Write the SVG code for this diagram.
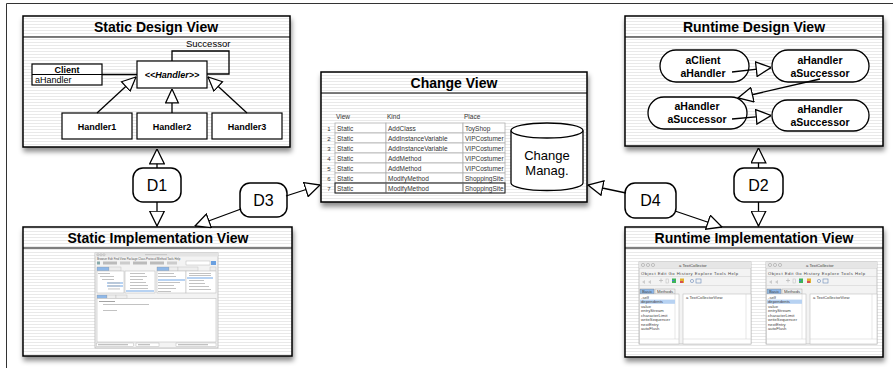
<svg xmlns="http://www.w3.org/2000/svg" width="893" height="368" viewBox="0 0 893 368">
<defs>
<pattern id="pin" width="4" height="3" patternUnits="userSpaceOnUse"><rect width="4" height="3" fill="#ffffff"/><rect width="4" height="1" fill="#e9e9e9"/></pattern>
<filter id="sh" x="-5%" y="-5%" width="112%" height="125%"><feDropShadow dx="1" dy="4" stdDeviation="2.5" flood-color="#000" flood-opacity="0.45"/></filter>
<marker id="tri" viewBox="0 0 16 16" refX="15.5" refY="8" markerWidth="16" markerHeight="16" markerUnits="userSpaceOnUse" orient="auto"><path d="M0.7,0.7 L15.5,8 L0.7,15.3 Z" fill="#fff" stroke="#000" stroke-width="1.3"/></marker>
<marker id="tris" viewBox="0 0 16 16" refX="15.5" refY="8" markerWidth="15" markerHeight="15" markerUnits="userSpaceOnUse" orient="auto"><path d="M0.7,1.2 L15.5,8 L0.7,14.8 Z" fill="#fff" stroke="#000" stroke-width="1.3"/></marker>
</defs>
<style>
text{font-family:"Liberation Sans",Arial,sans-serif;}
.box{fill:url(#pin);stroke:#000;stroke-width:1.5;filter:url(#sh);}
.band{fill:none;stroke:#000;stroke-width:1.2;}
.title{font-size:14px;font-weight:bold;text-anchor:middle;fill:#000;}
.cls{fill:#fff;stroke:#000;stroke-width:1.2;}
.cb{font-size:9px;font-weight:bold;text-anchor:middle;}
.cn{font-size:9px;}
.ln{fill:none;stroke:#000;stroke-width:1.3;}
.dbox{fill:#fff;stroke:#000;stroke-width:1.5;}
.dt{font-size:16px;text-anchor:middle;}
.rn{fill:#fff;stroke:#000;stroke-width:1.3;}
.rt{font-size:10.5px;font-weight:bold;text-anchor:middle;}
.tb{font-size:6.5px;fill:#333;}
.tn{font-size:6px;fill:#333;text-anchor:middle;}
.cell{fill:#fff;stroke:#b0b0b0;stroke-width:0.8;}
.win{fill:#f3f3f3;stroke:#b8b8b8;stroke-width:0.8;}
.pane{fill:#fff;stroke:#c0c0c0;stroke-width:0.6;}
.tiny{font-size:4.2px;fill:#444;}
.tiny2{font-size:2.8px;fill:#555;}
.bar{fill:#c9c9c9;}
.hl{fill:#b7d2f2;}
</style>

<path d="M6.5,368 V3.5 H893" fill="none" stroke="#333" stroke-width="1"/>

<!-- Static Design View -->
<g id="static-design-view">
<rect class="box" x="23" y="16" width="267" height="131"/>
<line class="band" x1="23" y1="37" x2="290" y2="37"/>
<text class="title" x="156" y="32">Static Design View</text>
</g>
<g id="client">
<rect class="cls" x="32" y="64" width="70" height="21"/>
<line class="band" x1="32" y1="74.5" x2="102" y2="74.5"/>
<text class="cb" x="67" y="72.5">Client</text>
<text class="cn" x="35" y="83">aHandler</text>
</g>
<g id="handler">
<rect class="cls" x="137" y="61" width="70" height="27"/>
<text class="cb" x="172" y="78" font-style="italic">&lt;&lt;Handler&gt;&gt;</text>
<text x="186" y="47" font-size="9.5px">Successor</text>
</g>
<g id="handler1"><rect class="cls" x="62" y="113" width="70" height="26"/><text class="cb" x="97" y="129.5">Handler1</text></g>
<g id="handler2"><rect class="cls" x="137" y="113" width="70" height="26"/><text class="cb" x="172" y="129.5">Handler2</text></g>
<g id="handler3"><rect class="cls" x="212" y="113" width="70" height="26"/><text class="cb" x="247" y="129.5">Handler3</text></g>

<!-- Change View -->
<g id="change-view">
<rect class="box" x="321" y="72" width="266" height="130"/>
<line class="band" x1="321" y1="93" x2="587" y2="93"/>
<text class="title" x="454" y="88">Change View</text>
<text class="tb" x="336" y="118.5">View</text>
<text class="tb" x="387" y="118.5">Kind</text>
<text class="tb" x="464" y="118.5">Place</text>
<g>
<rect class="cell" x="335" y="123" width="51" height="10"/><rect class="cell" x="386" y="123" width="77" height="10"/><rect class="cell" x="463" y="123" width="42" height="10"/>
<rect class="cell" x="335" y="133" width="51" height="10"/><rect class="cell" x="386" y="133" width="77" height="10"/><rect class="cell" x="463" y="133" width="42" height="10"/>
<rect class="cell" x="335" y="143" width="51" height="10"/><rect class="cell" x="386" y="143" width="77" height="10"/><rect class="cell" x="463" y="143" width="42" height="10"/>
<rect class="cell" x="335" y="153" width="51" height="10"/><rect class="cell" x="386" y="153" width="77" height="10"/><rect class="cell" x="463" y="153" width="42" height="10"/>
<rect class="cell" x="335" y="163" width="51" height="10"/><rect class="cell" x="386" y="163" width="77" height="10"/><rect class="cell" x="463" y="163" width="42" height="10"/>
<rect class="cell" x="335" y="173" width="51" height="10"/><rect class="cell" x="386" y="173" width="77" height="10"/><rect class="cell" x="463" y="173" width="42" height="10"/>
<rect class="cell" x="335" y="183" width="51" height="10"/><rect class="cell" x="386" y="183" width="77" height="10"/><rect class="cell" x="463" y="183" width="42" height="10"/>
<rect x="335" y="183" width="170" height="10" fill="none" stroke="#222" stroke-width="1"/>
<line x1="386" y1="183" x2="386" y2="193" stroke="#777" stroke-width="0.8"/><line x1="463" y1="183" x2="463" y2="193" stroke="#777" stroke-width="0.8"/>
</g>
<text class="tn" x="329" y="130.5">1</text><text class="tb" x="337" y="130.5">Static</text><text class="tb" x="388" y="130.5">AddClass</text><text class="tb" x="465" y="130.5">ToyShop</text>
<text class="tn" x="329" y="140.5">2</text><text class="tb" x="337" y="140.5">Static</text><text class="tb" x="388" y="140.5">AddInstanceVariable</text><text class="tb" x="465" y="140.5">VIPCostumer</text>
<text class="tn" x="329" y="150.5">3</text><text class="tb" x="337" y="150.5">Static</text><text class="tb" x="388" y="150.5">AddInstanceVariable</text><text class="tb" x="465" y="150.5">VIPCostumer</text>
<text class="tn" x="329" y="160.5">4</text><text class="tb" x="337" y="160.5">Static</text><text class="tb" x="388" y="160.5">AddMethod</text><text class="tb" x="465" y="160.5">VIPCostumer</text>
<text class="tn" x="329" y="170.5">5</text><text class="tb" x="337" y="170.5">Static</text><text class="tb" x="388" y="170.5">AddMethod</text><text class="tb" x="465" y="170.5">VIPCostumer</text>
<text class="tn" x="329" y="180.5">6</text><text class="tb" x="337" y="180.5">Static</text><text class="tb" x="388" y="180.5">ModifyMethod</text><text class="tb" x="465" y="180.5">ShoppingSite</text>
<text class="tn" x="329" y="190.5">7</text><text class="tb" x="337" y="190.5">Static</text><text class="tb" x="388" y="190.5">ModifyMethod</text><text class="tb" x="465" y="190.5">ShoppingSite</text>
</g>
<g id="change-manag">
<path d="M511,130.5 A36,7.5 0 0 1 583,130.5 V183 A36,7.5 0 0 1 511,183 Z" fill="#fff" stroke="#000" stroke-width="1.3"/>
<path d="M511,130.5 A36,7.5 0 0 0 583,130.5" fill="none" stroke="#000" stroke-width="1.3"/>
<text x="547" y="160" font-size="13px" text-anchor="middle">Change</text>
<text x="547" y="175" font-size="13px" text-anchor="middle">Manag.</text>
</g>

<!-- Runtime Design View -->
<g id="runtime-design-view">
<rect class="box" x="625" y="16" width="258" height="130"/>
<line class="band" x1="625" y1="37" x2="883" y2="37"/>
<text class="title" x="754" y="32">Runtime Design View</text>
</g>
<g id="r-node1"><rect class="rn" x="660" y="50" width="89" height="32" rx="16"/><text class="rt" x="703" y="64">aClient</text><text class="rt" x="703" y="77">aHandler</text></g>
<g id="r-node2"><rect class="rn" x="772" y="50" width="97" height="32" rx="16"/><text class="rt" x="820" y="64">aHandler</text><text class="rt" x="820" y="77">aSuccessor</text></g>
<g id="r-node3"><rect class="rn" x="648" y="97" width="99" height="32" rx="16"/><text class="rt" x="697" y="110">aHandler</text><text class="rt" x="697" y="123">aSuccessor</text></g>
<g id="r-node4"><rect class="rn" x="772" y="100" width="97" height="31" rx="15.5"/><text class="rt" x="820" y="113">aHandler</text><text class="rt" x="820" y="126">aSuccessor</text></g>

<!-- Static Implementation View -->
<g id="static-implementation-view">
<rect class="box" x="23" y="227" width="269" height="129"/>
<line class="band" x1="23" y1="248" x2="292" y2="248"/>
<text class="title" x="158" y="243">Static Implementation View</text>
<g id="browser-shot">
<rect class="win" x="95" y="253" width="123" height="95"/>
<rect x="95" y="253" width="123" height="3.5" fill="#e4e4e4"/>
<circle cx="98" cy="254.8" r="1.1" fill="none" stroke="#999" stroke-width="0.4"/><circle cx="101" cy="254.8" r="1.1" fill="none" stroke="#999" stroke-width="0.4"/><circle cx="104" cy="254.8" r="1.1" fill="none" stroke="#999" stroke-width="0.4"/>
<rect x="145" y="254" width="22" height="1.2" class="bar"/>
<text class="tiny2" x="97" y="259.6">Browser Edit Find View Package Class Protocol Method Tools Help</text>
<rect x="97" y="261.5" width="3" height="3" fill="#8aa"/><rect x="103" y="261.5" width="14" height="3" fill="#bbb"/><rect x="120" y="261.5" width="10" height="3" fill="#ccc"/><rect x="133" y="261.5" width="14" height="3" fill="#bbb"/><rect x="150" y="261.5" width="14" height="3" fill="#bbb"/><rect x="167" y="261.5" width="10" height="3" fill="#ccc"/>
<rect x="186" y="261" width="24" height="4" fill="#fff" stroke="#aaa" stroke-width="0.4"/><rect x="211" y="261" width="5" height="4" fill="#6aa0e0"/>
<rect x="97" y="267" width="12" height="4" fill="#8fb8e8" stroke="#888" stroke-width="0.3"/><rect x="109" y="267" width="12" height="4" fill="#eee" stroke="#aaa" stroke-width="0.3"/>
<rect x="157" y="267" width="12" height="4" fill="#8fb8e8" stroke="#888" stroke-width="0.3"/><rect x="169" y="267" width="9" height="4" fill="#eee" stroke="#aaa" stroke-width="0.3"/><rect x="178" y="267" width="20" height="4" fill="#eee" stroke="#aaa" stroke-width="0.3"/><rect x="210" y="267" width="6" height="4" fill="#eee" stroke="#aaa" stroke-width="0.3"/>
<rect class="pane" x="97" y="271" width="27" height="22"/><rect class="pane" x="125" y="271" width="30" height="22"/><rect class="pane" x="157" y="271" width="29" height="22"/><rect class="pane" x="186" y="271" width="30" height="22"/>
<rect class="hl" x="107" y="282" width="16" height="2"/><rect class="hl" x="107" y="285" width="16" height="2"/><rect class="hl" x="126" y="290" width="28" height="2"/><rect class="hl" x="158" y="279" width="27" height="2"/><rect class="hl" x="187" y="277" width="26" height="2"/>
<g fill="#bbb">
<rect x="98" y="273" width="12" height="0.9"/><rect x="100" y="276" width="14" height="0.9"/><rect x="102" y="279" width="12" height="0.9"/><rect x="108" y="282.5" width="12" height="0.9"/><rect x="108" y="285.5" width="12" height="0.9"/><rect x="108" y="288.5" width="12" height="0.9"/>
<rect x="130" y="273" width="15" height="0.9"/><rect x="130" y="276" width="17" height="0.9"/><rect x="130" y="279" width="13" height="0.9"/><rect x="130" y="282" width="16" height="0.9"/><rect x="130" y="285" width="18" height="0.9"/><rect x="130" y="288" width="18" height="0.9"/>
<rect x="158" y="273" width="16" height="0.9"/><rect x="158" y="276" width="18" height="0.9"/><rect x="158" y="282" width="22" height="0.9"/><rect x="158" y="285" width="16" height="0.9"/><rect x="158" y="288" width="18" height="0.9"/><rect x="158" y="291" width="13" height="0.9"/>
<rect x="189" y="273" width="22" height="0.9"/><rect x="189" y="275" width="22" height="0.9"/><rect x="189" y="280" width="15" height="0.9"/><rect x="189" y="283" width="16" height="0.9"/><rect x="189" y="286" width="20" height="0.9"/><rect x="189" y="289" width="22" height="0.9"/>
</g>
<rect x="97" y="295" width="10" height="3.5" fill="#8fb8e8" stroke="#888" stroke-width="0.3"/><rect x="107" y="295" width="9" height="3.5" fill="#eee" stroke="#aaa" stroke-width="0.3"/><rect x="116" y="295" width="11" height="3.5" fill="#eee" stroke="#aaa" stroke-width="0.3"/>
<rect class="pane" x="97" y="298.5" width="119" height="43.5"/>
<rect x="99" y="301" width="16" height="0.9" fill="#999"/><rect x="103" y="304" width="46" height="0.9" fill="#bbb"/><rect x="103" y="310" width="14" height="0.9" fill="#bbb"/>
<rect x="96.5" y="343" width="37" height="3.5" fill="#fff" stroke="#aaa" stroke-width="0.4"/><rect x="136" y="343" width="23" height="3.5" fill="#fff" stroke="#aaa" stroke-width="0.4"/><rect x="176" y="343" width="40" height="3.5" fill="#fff" stroke="#aaa" stroke-width="0.4"/>
<rect x="98" y="344.4" width="30" height="0.8" fill="#999"/><rect x="138" y="344.4" width="12" height="0.8" fill="#999"/><rect x="178" y="344.4" width="30" height="0.8" fill="#999"/>
</g>
</g>

<!-- Runtime Implementation View -->
<g id="runtime-implementation-view">
<rect class="box" x="625" y="227" width="258" height="130"/>
<line class="band" x1="625" y1="248" x2="883" y2="248"/>
<text class="title" x="754" y="243">Runtime Implementation View</text>
<g id="inspector-1">
<rect class="win" x="639" y="262" width="112" height="82"/>
<rect x="639" y="262" width="112" height="6" fill="#e6e6e6"/>
<circle cx="643" cy="265" r="1.6" fill="none" stroke="#999" stroke-width="0.5"/><circle cx="648" cy="265" r="1.6" fill="none" stroke="#999" stroke-width="0.5"/><circle cx="653" cy="265" r="1.6" fill="none" stroke="#999" stroke-width="0.5"/>
<text class="tiny" x="679" y="266.5" fill="#888">a TextCollector</text>
<line x1="639" y1="268.5" x2="751" y2="268.5" stroke="#ccc" stroke-width="0.5"/>
<text class="tiny" x="641" y="274.5" fill="#222" textLength="97" lengthAdjust="spacing">Object Edit Go History Explore Tools Help</text>
<line x1="639" y1="276.5" x2="751" y2="276.5" stroke="#ccc" stroke-width="0.5"/>
<path d="M642,282 l3,-2 v4 z M648,282 l3,-2 v4 z" fill="#ccc"/>
<path d="M659,280.5 h4 M661,278.5 v4" stroke="#bbb" stroke-width="0.8"/>
<rect x="666" y="279" width="2.5" height="4" fill="none" stroke="#bbb" stroke-width="0.5"/>
<rect x="672" y="278.5" width="4" height="4.5" fill="#3cb35a"/><rect x="672" y="280" width="2" height="1" fill="#4a7ad8"/>
<rect x="680" y="278.5" width="4" height="4.5" fill="#e0b030"/><rect x="680" y="281" width="3" height="2" fill="#d85050"/>
<circle cx="692" cy="281" r="1.6" fill="none" stroke="#6a8ab8" stroke-width="0.6"/><rect x="696" y="279" width="5" height="4" fill="none" stroke="#6a8ab8" stroke-width="0.6"/>
<line x1="639" y1="285.5" x2="751" y2="285.5" stroke="#ccc" stroke-width="0.5"/>
<rect x="640" y="289" width="14" height="5" fill="#8fb8e8" stroke="#777" stroke-width="0.4"/><rect x="655" y="289" width="20" height="5" fill="#f0f0f0" stroke="#999" stroke-width="0.4"/>
<text class="tiny" x="642" y="293" fill="#123">Basic</text><text class="tiny" x="657" y="293">Methods</text>
<rect class="pane" x="639.5" y="294" width="39.5" height="50"/>
<line x1="675" y1="294" x2="675" y2="339" stroke="#ccc" stroke-width="0.5"/>
<line x1="639.5" y1="339" x2="679" y2="339" stroke="#ccc" stroke-width="0.5"/>
<rect class="hl" x="640" y="299.6" width="35" height="4.2"/>
<text class="tiny" x="641" y="298.6">-self</text>
<text class="tiny" x="641" y="303.1">dependents</text>
<text class="tiny" x="641" y="307.6">value</text>
<text class="tiny" x="641" y="312.1">entryStream</text>
<text class="tiny" x="641" y="316.6">characterLimit</text>
<text class="tiny" x="641" y="321.1">writeSequencer</text>
<text class="tiny" x="641" y="325.6">nextEntry</text>
<text class="tiny" x="641" y="330.1">autoFlush</text>
<rect class="pane" x="683" y="294" width="68" height="50"/>
<line x1="746" y1="294" x2="746" y2="339" stroke="#ccc" stroke-width="0.5"/>
<line x1="683" y1="339" x2="751" y2="339" stroke="#ccc" stroke-width="0.5"/>
<text class="tiny" x="686" y="299">a TextCollectorView</text>
</g>
<g id="inspector-2">
<rect class="win" x="766" y="262" width="111" height="82"/>
<rect x="766" y="262" width="111" height="6" fill="#e6e6e6"/>
<circle cx="770" cy="265" r="1.6" fill="none" stroke="#999" stroke-width="0.5"/><circle cx="775" cy="265" r="1.6" fill="none" stroke="#999" stroke-width="0.5"/><circle cx="780" cy="265" r="1.6" fill="none" stroke="#999" stroke-width="0.5"/>
<text class="tiny" x="806" y="266.5" fill="#888">a TextCollector</text>
<line x1="766" y1="268.5" x2="877" y2="268.5" stroke="#ccc" stroke-width="0.5"/>
<text class="tiny" x="768" y="274.5" fill="#222" textLength="97" lengthAdjust="spacing">Object Edit Go History Explore Tools Help</text>
<line x1="766" y1="276.5" x2="877" y2="276.5" stroke="#ccc" stroke-width="0.5"/>
<path d="M769,282 l3,-2 v4 z M775,282 l3,-2 v4 z" fill="#ccc"/>
<path d="M786,280.5 h4 M788,278.5 v4" stroke="#bbb" stroke-width="0.8"/>
<rect x="793" y="279" width="2.5" height="4" fill="none" stroke="#bbb" stroke-width="0.5"/>
<rect x="799" y="278.5" width="4" height="4.5" fill="#3cb35a"/><rect x="799" y="280" width="2" height="1" fill="#4a7ad8"/>
<rect x="807" y="278.5" width="4" height="4.5" fill="#e0b030"/><rect x="807" y="281" width="3" height="2" fill="#d85050"/>
<circle cx="819" cy="281" r="1.6" fill="none" stroke="#6a8ab8" stroke-width="0.6"/><rect x="823" y="279" width="5" height="4" fill="none" stroke="#6a8ab8" stroke-width="0.6"/>
<line x1="766" y1="285.5" x2="877" y2="285.5" stroke="#ccc" stroke-width="0.5"/>
<rect x="767" y="289" width="14" height="5" fill="#8fb8e8" stroke="#777" stroke-width="0.4"/><rect x="782" y="289" width="20" height="5" fill="#f0f0f0" stroke="#999" stroke-width="0.4"/>
<text class="tiny" x="769" y="293" fill="#123">Basic</text><text class="tiny" x="784" y="293">Methods</text>
<rect class="pane" x="766.5" y="294" width="39.5" height="50"/>
<line x1="802" y1="294" x2="802" y2="339" stroke="#ccc" stroke-width="0.5"/>
<line x1="766.5" y1="339" x2="806" y2="339" stroke="#ccc" stroke-width="0.5"/>
<rect class="hl" x="767" y="299.6" width="35" height="4.2"/>
<text class="tiny" x="768" y="298.6">-self</text>
<text class="tiny" x="768" y="303.1">dependents</text>
<text class="tiny" x="768" y="307.6">value</text>
<text class="tiny" x="768" y="312.1">entryStream</text>
<text class="tiny" x="768" y="316.6">characterLimit</text>
<text class="tiny" x="768" y="321.1">writeSequencer</text>
<text class="tiny" x="768" y="325.6">nextEntry</text>
<text class="tiny" x="768" y="330.1">autoFlush</text>
<rect class="pane" x="810" y="294" width="67" height="50"/>
<line x1="872" y1="294" x2="872" y2="339" stroke="#ccc" stroke-width="0.5"/>
<line x1="810" y1="339" x2="877" y2="339" stroke="#ccc" stroke-width="0.5"/>
<text class="tiny" x="813" y="299">a TextCollectorView</text>
</g>
</g>

<!-- D labels -->
<g id="d1"><rect class="dbox" x="133" y="168" width="48" height="34" rx="10"/><text class="dt" x="157" y="191">D1</text></g>
<g id="d2"><rect class="dbox" x="734" y="168" width="49" height="34" rx="10"/><text class="dt" x="758.5" y="191">D2</text></g>
<g id="d3"><rect class="dbox" x="240" y="183" width="47" height="34" rx="10"/><text class="dt" x="263.5" y="206">D3</text></g>
<g id="d4"><rect class="dbox" x="625" y="183" width="51" height="35" rx="10"/><text class="dt" x="650.5" y="206">D4</text></g>

<!-- connectors -->
<g id="connectors">
<line class="ln" x1="102" y1="74.5" x2="137" y2="74.5"/>
<polyline class="ln" points="172,61 172,51 229,51 229,74 207,74"/>
<line class="ln" x1="97" y1="113" x2="136" y2="77" marker-end="url(#tris)"/>
<line class="ln" x1="172" y1="113" x2="172" y2="89" marker-end="url(#tris)"/>
<line class="ln" x1="247" y1="113" x2="208" y2="77" marker-end="url(#tris)"/>
<line class="ln" x1="732" y1="72" x2="771" y2="67.5" marker-end="url(#tri)"/>
<line class="ln" x1="820" y1="79" x2="738" y2="98" marker-end="url(#tri)"/>
<line class="ln" x1="732" y1="119" x2="771" y2="115.5" marker-end="url(#tri)"/>
<line class="ln" x1="157" y1="168" x2="157" y2="149" marker-end="url(#tri)"/>
<line class="ln" x1="157" y1="202" x2="157" y2="226" marker-end="url(#tri)"/>
<line class="ln" x1="758.5" y1="168" x2="758.5" y2="148" marker-end="url(#tri)"/>
<line class="ln" x1="758.5" y1="202" x2="758.5" y2="226" marker-end="url(#tri)"/>
<line class="ln" x1="241" y1="209" x2="195" y2="226" marker-end="url(#tri)"/>
<line class="ln" x1="286" y1="196" x2="320" y2="185" marker-end="url(#tri)"/>
<line class="ln" x1="626" y1="193" x2="588" y2="185" marker-end="url(#tri)"/>
<line class="ln" x1="675" y1="211" x2="722" y2="227" marker-end="url(#tri)"/>
</g>
</svg>
